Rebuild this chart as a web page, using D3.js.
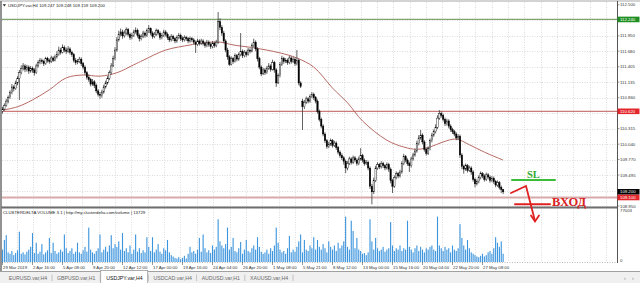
<!DOCTYPE html>
<html>
<head>
<meta charset="utf-8">
<script src="https://cdn.jsdelivr.net/npm/d3@7"></script>
<style>
body { margin: 0; background: #fff; overflow: hidden }
svg { display: block; font-family: "Liberation Sans", Arial, sans-serif }
</style>
</head>
<body>
<script>
// USDJPY.var H4, 29 Mar - 28 May 2019
var closes = [110.66,110.72,110.80,110.86,110.95,111.05,111.02,111.12,111.20,111.30,
111.38,111.42,111.36,111.40,111.33,111.38,111.35,111.30,111.42,111.48,
111.52,111.50,111.46,111.55,111.52,111.50,111.56,111.52,111.58,111.62,
111.70,111.66,111.74,111.70,111.68,111.72,111.66,111.62,111.52,111.48,
111.50,111.54,111.46,111.40,111.30,111.22,111.18,111.10,111.14,111.08,
110.98,110.92,110.90,110.96,111.05,111.12,111.20,111.30,111.42,111.55,
111.70,111.88,111.98,112.02,111.95,112.00,112.06,111.98,111.92,111.96,
112.02,112.05,111.96,111.90,111.94,112.00,111.96,112.04,112.08,112.00,
111.94,111.98,112.04,112.00,111.92,111.96,112.02,111.98,111.92,111.88,
111.94,111.90,111.86,111.92,111.96,111.90,111.88,111.92,111.90,111.86,
111.90,111.88,111.84,111.80,111.86,111.82,111.86,111.82,111.78,111.84,
111.80,111.76,111.82,111.78,111.84,112.20,112.10,112.00,111.86,111.70,
111.58,111.45,111.55,111.50,111.60,111.54,111.62,111.68,111.60,111.66,
111.62,111.70,111.68,111.78,111.84,111.72,111.55,111.40,111.28,111.35,
111.30,111.38,111.42,111.36,111.48,111.35,111.12,111.25,111.45,111.55,
111.50,111.52,111.48,111.56,111.50,111.54,111.46,111.52,111.12,111.06,
110.70,110.78,110.84,110.80,110.88,110.92,110.86,110.80,110.62,110.48,
110.36,110.22,110.10,110.00,110.04,110.10,110.02,110.06,109.98,109.90,
109.84,109.80,109.74,109.62,109.70,109.78,109.72,109.80,109.76,109.70,
109.78,109.84,109.76,109.70,109.72,109.62,109.30,109.20,109.40,109.62,
109.68,109.64,109.70,109.66,109.62,109.68,109.60,109.40,109.30,109.45,
109.52,109.48,109.55,109.70,109.82,109.76,109.70,109.66,109.78,109.85,
109.92,110.05,110.15,110.20,110.08,109.95,109.88,109.96,110.10,110.20,
110.26,110.34,110.50,110.58,110.55,110.48,110.40,110.45,110.36,110.30,
110.26,110.22,110.15,110.18,109.85,109.65,109.60,109.66,109.58,109.62,
109.55,109.42,109.34,109.38,109.45,109.52,109.48,109.42,109.50,109.46,
109.40,109.44,109.38,109.32,109.36,109.28,109.24,109.20]

var highs = [110.70,110.76,110.84,110.90,110.99,111.10,111.08,111.16,111.24,111.35,
111.43,111.47,111.45,111.44,111.43,111.42,111.41,111.38,111.46,111.52,
111.56,111.55,111.53,111.58,111.58,111.55,111.60,111.59,111.62,111.68,
111.76,111.74,111.80,111.78,111.74,111.77,111.75,111.69,111.65,111.56,
111.54,111.58,111.57,111.49,111.43,111.33,111.27,111.21,111.19,111.17,
111.11,111.01,110.96,111.00,111.09,111.16,111.24,111.34,111.47,111.60,
111.75,111.93,112.04,112.08,112.06,112.05,112.10,112.09,112.01,112.00,
112.06,112.10,112.08,111.99,111.98,112.04,112.03,112.08,112.14,112.10,
112.03,112.02,112.08,112.07,112.03,112.00,112.06,112.05,112.01,111.95,
111.98,111.97,111.93,111.96,112.00,111.99,111.94,111.96,111.95,111.93,
111.94,111.93,111.91,111.87,111.90,111.89,111.90,111.89,111.85,111.88,
111.87,111.83,111.86,111.85,111.88,112.37,112.26,112.14,112.04,111.89,
111.74,111.61,111.59,111.58,111.64,111.63,111.66,112.00,111.71,111.70,
111.69,111.74,111.73,111.82,111.90,111.87,111.75,111.58,111.43,111.39,
111.38,111.42,111.47,111.45,111.53,111.51,111.38,111.29,111.49,111.60,
111.58,111.56,111.55,111.60,111.59,111.58,111.57,111.70,111.55,111.15,
110.84,110.82,110.88,110.87,110.92,110.96,110.95,110.89,110.83,110.65,
110.51,110.39,110.25,110.13,110.08,110.14,110.13,110.10,110.09,110.01,
109.93,109.88,109.83,109.77,109.74,109.82,109.81,109.84,109.83,109.79,
109.82,109.97,109.87,109.79,109.76,109.75,109.65,109.34,109.45,109.66,
109.72,109.71,109.74,109.73,109.69,109.72,109.71,109.63,109.43,109.49,
109.56,109.55,109.59,109.74,109.87,109.85,109.79,109.73,109.82,109.89,
109.96,110.10,110.20,110.29,110.23,110.11,109.98,110.00,110.14,110.24,
110.30,110.39,110.55,110.64,110.62,110.58,110.51,110.49,110.48,110.39,
110.33,110.29,110.25,110.22,110.21,109.88,109.68,109.70,109.69,109.66,
109.65,109.58,109.45,109.42,109.49,109.56,109.55,109.51,109.54,109.53,
109.49,109.48,109.47,109.41,109.40,109.39,109.31,109.25]

var lows = [110.58,110.63,110.70,110.76,110.84,110.92,110.97,111.00,111.08,110.82,
111.27,111.34,111.31,111.32,111.28,111.30,111.30,111.25,111.28,111.39,
111.45,111.46,111.42,111.44,111.48,111.46,111.47,111.49,111.50,111.55,
111.60,111.62,111.64,111.66,111.63,111.65,111.62,111.58,111.48,111.44,
111.45,111.47,111.42,111.36,111.26,111.18,111.14,111.06,111.07,111.03,
110.94,110.88,110.84,110.86,110.93,111.02,111.09,111.17,111.27,111.40,
111.52,111.67,111.85,111.94,111.90,111.92,111.96,111.94,111.88,111.89,
111.93,111.99,111.92,111.85,111.87,111.91,111.92,111.93,112.00,111.96,
111.90,111.91,111.95,111.96,111.88,111.89,111.93,111.94,111.88,111.84,
111.85,111.86,111.82,111.83,111.89,111.86,111.84,111.85,111.86,111.82,
111.83,111.84,111.80,111.65,111.77,111.78,111.79,111.78,111.74,111.75,
111.76,111.72,111.73,111.74,111.75,111.81,112.05,111.95,111.82,111.66,
111.53,111.42,111.43,111.46,111.48,111.50,111.51,111.59,111.56,111.57,
111.58,111.60,111.64,111.66,111.75,111.68,111.50,111.36,111.24,111.26,
111.26,111.28,111.35,111.32,111.34,111.30,111.05,111.10,111.22,111.42,
111.46,111.47,111.44,111.45,111.46,111.47,111.42,111.43,111.08,111.03,
110.29,110.66,110.75,110.76,110.77,110.85,110.82,110.76,110.58,110.44,
110.32,110.18,110.06,109.96,109.97,110.01,109.98,109.99,109.94,109.86,
109.80,109.76,109.68,109.53,109.58,109.67,109.68,109.69,109.72,109.66,
109.67,109.75,109.72,109.66,109.67,109.58,109.25,108.98,109.16,109.37,
109.59,109.60,109.61,109.62,109.58,109.59,109.55,109.35,109.18,109.27,
109.42,109.44,109.45,109.52,109.67,109.72,109.66,109.55,109.63,109.75,
109.82,109.89,110.02,110.12,110.04,109.91,109.84,109.85,109.93,110.07,
110.17,110.23,110.31,110.47,110.51,110.44,110.36,110.37,110.32,110.26,
110.22,110.18,110.11,110.12,109.80,109.60,109.52,109.57,109.54,109.55,
109.50,109.38,109.28,109.31,109.35,109.42,109.44,109.38,109.39,109.42,
109.36,109.37,109.34,109.28,109.29,109.24,109.18,109.16]

var firstOpen = 110.62
var gapOpens = {160: 110.80}   // Monday open after the weekend gap

// CLUSTERDELTA volume, thousands
var volumes = [18,32,39,14,12,16,10,13,17,44,
12,14,11,15,18,22,42,13,28,12,
15,26,11,14,17,35,13,28,16,12,
14,18,15,40,20,13,16,20,12,15,
28,14,12,17,22,15,50,18,14,12,
16,20,40,14,18,22,15,24,39,20,
26,22,30,18,42,16,20,14,24,12,
18,40,15,20,13,17,14,36,22,16,
36,14,18,26,15,12,20,17,32,14,
10,8,6,5,7,4,6,9,5,12,
22,14,16,12,18,35,15,40,20,14,
17,13,24,18,22,62,30,24,20,26,
50,18,22,35,16,14,20,29,12,18,
32,16,14,20,24,18,36,22,15,12,
14,18,12,20,16,24,50,28,18,14,
16,12,20,38,14,18,15,22,30,40,
14,32,18,16,24,20,36,18,32,22,
18,26,20,14,30,22,18,24,16,28,
20,24,30,66,22,18,60,45,20,35,
18,16,12,13,10,14,62,30,18,35,
20,16,18,22,15,18,20,58,24,16,
20,18,24,16,20,18,60,22,18,14,
20,24,16,22,18,14,20,18,22,24,
18,16,66,24,20,16,22,18,20,14,
24,18,16,20,55,35,24,18,32,20,
14,12,10,8,7,9,12,8,10,14,
16,12,20,36,28,22,30,12]
var volMax = 77003

// moving average read at some bars
var maBars = [0,8,16,25,34,43,52,61,70,75,87,100,105,116,123,134,148,157,166,176,184,192,205,214,221,228,235,242,249,257,267]
var maValues = [110.64,110.70,110.82,111.00,111.21,111.26,111.24,111.30,111.44,111.52,111.70,111.79,111.82,111.84,111.79,111.74,111.65,111.56,111.40,111.03,110.77,110.45,110.11,109.99,109.95,109.99,110.08,110.13,110.03,109.90,109.76]

var priceTicks = [112.500,112.225,111.950,111.680,111.405,111.135,110.860,110.590,110.315,110.040,109.770,109.495,109.220,108.950]
var dateLabels = ["29 Mar 2019","2 Apr 16:00","5 Apr 08:00","9 Apr 20:00","12 Apr 12:00","17 Apr 00:00","19 Apr 16:00","24 Apr 04:00","26 Apr 20:00","1 May 08:00","5 May 21:00","8 May 12:00","13 May 00:00","15 May 16:00","20 May 04:00","22 May 20:00","27 May 08:00"]
var barsPerLabel = 16

var levelTp = 112.240, levelRes = 110.620, levelEntry = 109.100, lastPrice = 109.200
var headerOhlc = ["109.247","109.248","109.159","109.200"]
var tabs = ["EURUSD.var,H4","GBPUSD.var,H1","USDJPY.var,H4","USDCAD.var,H4","AUDUSD.var,H1","XAUUSD.var,H4"]
var activeTab = 2

var width = 640, height = 283
var axisX = 617.5, mainBottom = 207.5, volBase = 262

var x = d3.scaleLinear().domain([0, closes.length - 1]).range([2.5, 2.5 + 1.875 * (closes.length - 1)])
var y = d3.scaleLinear().domain([108.95, 112.5]).range([206, 4.7])
var yv = d3.scaleLinear().domain([0, volMax / 1000]).range([volBase, 209])

var svg = d3.select("body").append("svg")
    .attr("width", width)
    .attr("height", height)

svg.append("rect").attr("width", width).attr("height", height).attr("fill", "#fff")

// grid
var grid = svg.append("g").attr("stroke", "#c4c4c4").attr("stroke-width", 0.6).attr("stroke-dasharray", "1,1.5")
grid.selectAll(".hg").data(priceTicks.slice(1)).enter().append("line")
    .attr("x1", 2).attr("x2", axisX)
    .attr("y1", d => Math.round(y(d)) + 0.5).attr("y2", d => Math.round(y(d)) + 0.5)
grid.selectAll(".vg").data(d3.range(1, 38)).enter().append("line")
    .attr("x1", k => Math.round(0.4 + 16.37 * k) + 0.5).attr("x2", k => Math.round(0.4 + 16.37 * k) + 0.5)
    .attr("y1", 2).attr("y2", volBase)
grid.append("line").attr("x1", 2).attr("x2", axisX).attr("y1", volBase + 0.5).attr("y2", volBase + 0.5)
    .attr("stroke", "#888")

// horizontal levels
var levels = [
    {p: levelTp, c: "#7fa46e", w: 1.3},
    {p: levelRes, c: "#cc7a7a", w: 1.3},
    {p: levelEntry, c: "#d6a9a9", w: 2}
]
svg.append("g").selectAll("line").data(levels).enter().append("line")
    .attr("x1", 2).attr("x2", axisX)
    .attr("y1", d => y(d.p)).attr("y2", d => y(d.p))
    .attr("stroke", d => d.c).attr("stroke-width", d => d.w)

// moving average
var maLine = d3.line().x(d => x(d[0])).y(d => y(d[1])).curve(d3.curveCatmullRom)
svg.append("path")
    .attr("d", maLine(maBars.map((b, i) => [b, maValues[i]])))
    .attr("fill", "none").attr("stroke", "#b86a64").attr("stroke-width", 1)

// candles
var bars = closes.map((c, i) => {
    var o = gapOpens[i] !== undefined ? gapOpens[i] : (i ? closes[i - 1] : firstOpen)
    return {i: i, o: o, c: c, h: Math.max(highs[i], o, c), l: Math.min(lows[i], o, c)}
})
var candle = svg.append("g").selectAll("g").data(bars).enter().append("g")
candle.append("line")
    .attr("x1", d => x(d.i)).attr("x2", d => x(d.i))
    .attr("y1", d => y(d.h)).attr("y2", d => y(d.l))
    .attr("stroke", "#3a3a3a").attr("stroke-width", 0.8)
candle.append("rect")
    .attr("x", d => x(d.i) - 0.7).attr("width", 1.4)
    .attr("y", d => y(Math.max(d.o, d.c)))
    .attr("height", d => Math.max(0.6, Math.abs(y(d.o) - y(d.c))))
    .attr("fill", d => d.c < d.o ? "#000" : "#fff")
    .attr("stroke", "#000").attr("stroke-width", 0.4)

// volume bars
svg.append("g").selectAll("rect").data(volumes).enter().append("rect")
    .attr("x", (v, i) => x(i) - 0.55).attr("width", 1.1)
    .attr("y", v => yv(v)).attr("height", v => volBase - yv(v))
    .attr("fill", "#3c94dd")

// frame, separator, price axis
svg.append("line").attr("x1", 1).attr("x2", axisX).attr("y1", mainBottom).attr("y2", mainBottom)
    .attr("stroke", "#6e6e6e").attr("stroke-width", 2)
svg.append("line").attr("x1", 0).attr("x2", width).attr("y1", 1).attr("y2", 1)
    .attr("stroke", "#a8a8a8").attr("stroke-width", 1.2)
svg.append("line").attr("x1", 1).attr("x2", 1).attr("y1", 1).attr("y2", 271)
    .attr("stroke", "#777").attr("stroke-width", 1.6)
svg.append("line").attr("x1", axisX).attr("x2", axisX).attr("y1", 1).attr("y2", volBase + 1)
    .attr("stroke", "#555").attr("stroke-width", 1)

// price boxes sit on the axis and hide the tick labels beneath them
var boxes = [
    {p: levelTp, c: "#1f8f23"},
    {p: levelRes, c: "#e3262b"},
    {p: lastPrice, c: "#000"},
    {p: levelEntry, c: "#e3262b"}
]
var visibleTicks = priceTicks.filter(t => boxes.every(b => Math.abs(y(t) - y(b.p)) > 5))

var axis = svg.append("g").attr("font-size", 4.3).attr("fill", "#333")
axis.selectAll("text.tick").data(visibleTicks).enter().append("text")
    .attr("x", 620).attr("y", d => y(d) + 1.5)
    .text(d => d.toFixed(3))
axis.selectAll("line.tick").data(priceTicks).enter().append("line")
    .attr("x1", axisX).attr("x2", axisX + 2).attr("y1", d => y(d)).attr("y2", d => y(d))
    .attr("stroke", "#555").attr("stroke-width", 0.6)
axis.append("text").attr("x", 620).attr("y", 212).text(volMax)
axis.append("text").attr("x", 620).attr("y", volBase - 0.5).text("0")

var box = svg.append("g").selectAll("g").data(boxes).enter().append("g")
box.append("rect")
    .attr("x", axisX).attr("width", width - axisX - 0.5)
    .attr("y", d => y(d.p) - 2.8).attr("height", 5.6)
    .attr("fill", d => d.c)
box.append("text")
    .attr("x", 620).attr("y", d => y(d.p) + 1.5)
    .attr("font-size", 4.3).attr("fill", "#fff")
    .text(d => d.p.toFixed(3))

// date axis
var dates = svg.append("g").attr("font-size", 4.3).attr("fill", "#333")
dates.selectAll("text").data(dateLabels).enter().append("text")
    .attr("x", (d, i) => x(i * barsPerLabel) + 0.5).attr("y", 268.5)
    .text(d => d)
dates.selectAll("line").data(dateLabels).enter().append("line")
    .attr("x1", (d, i) => x(i * barsPerLabel)).attr("x2", (d, i) => x(i * barsPerLabel))
    .attr("y1", volBase).attr("y2", volBase + 3)
    .attr("stroke", "#555").attr("stroke-width", 0.6)

// headers
svg.append("path").attr("d", "M2.8,4.3L6,4.3L4.4,6.4Z").attr("fill", "#222")
svg.append("text").attr("x", 8).attr("y", 6.6).attr("font-size", 4.3).attr("fill", "#222")
    .text("USDJPY.var,H4  " + headerOhlc.join(" "))
svg.append("text").attr("x", 3).attr("y", 214).attr("font-size", 4.3).attr("fill", "#222")
    .text("CLUSTERDELTA VOLUME 3.1 | http://my.clusterdelta.com/volume | 13729")

// hand drawn trade marks
var marks = svg.append("g").attr("fill", "none").attr("stroke-linecap", "round")
marks.append("line").attr("x1", 512).attr("x2", 555).attr("y1", 180).attr("y2", 180)
    .attr("stroke", "#3dbb3a").attr("stroke-width", 2)
marks.append("path").attr("d", "M511,193L526,186L535,221")
    .attr("stroke", "#e02222").attr("stroke-width", 1.8)
marks.append("path").attr("d", "M531,215.5L535,221.5L539,215.5")
    .attr("stroke", "#e02222").attr("stroke-width", 1.8)
marks.append("line").attr("x1", 515).attr("x2", 550).attr("y1", 204.3).attr("y2", 204.3)
    .attr("stroke", "#e02222").attr("stroke-width", 2)
svg.append("text").attr("x", 527).attr("y", 177.5)
    .attr("font-family", "Liberation Serif, serif").attr("font-weight", "bold")
    .attr("font-size", 10.5).attr("fill", "#33aa33").text("SL")
svg.append("text").attr("x", 552).attr("y", 206)
    .attr("font-family", "Liberation Serif, serif").attr("font-weight", "bold")
    .attr("font-size", 12.5).attr("fill", "#d92323").text("ВХОД")

// tab strip
var tabBar = svg.append("g")
tabBar.append("rect").attr("x", 0).attr("y", 271).attr("width", width).attr("height", 12).attr("fill", "#f0f0f0")
tabBar.append("line").attr("x1", 0).attr("x2", width).attr("y1", 271.5).attr("y2", 271.5).attr("stroke", "#a0a0a0")
tabBar.append("rect").attr("x", 52 + 48.2 * (activeTab - 1) + 0.5).attr("y", 270.5)
    .attr("width", 47).attr("height", 13).attr("fill", "#fff").attr("stroke", "#9a9a9a").attr("stroke-width", 0.8)
tabBar.selectAll("line.sep").data(tabs).enter().append("line")
    .attr("x1", (d, i) => 52 + 48.2 * i).attr("x2", (d, i) => 52 + 48.2 * i)
    .attr("y1", 274.5).attr("y2", 281).attr("stroke", "#b0b0b0").attr("stroke-width", 0.7)
tabBar.selectAll("text").data(tabs).enter().append("text")
    .attr("x", (d, i) => 28 + 48.2 * i).attr("y", 279.8)
    .attr("text-anchor", "middle").attr("font-size", 5.2)
    .attr("fill", (d, i) => i === activeTab ? "#111" : "#6a6a6a")
    .text(d => d)
tabBar.append("text").attr("x", 624).attr("y", 280).attr("font-size", 5.5).attr("fill", "#888").text("‹")
tabBar.append("text").attr("x", 632).attr("y", 280).attr("font-size", 5.5).attr("fill", "#888").text("›")
</script>
</body>
</html>
